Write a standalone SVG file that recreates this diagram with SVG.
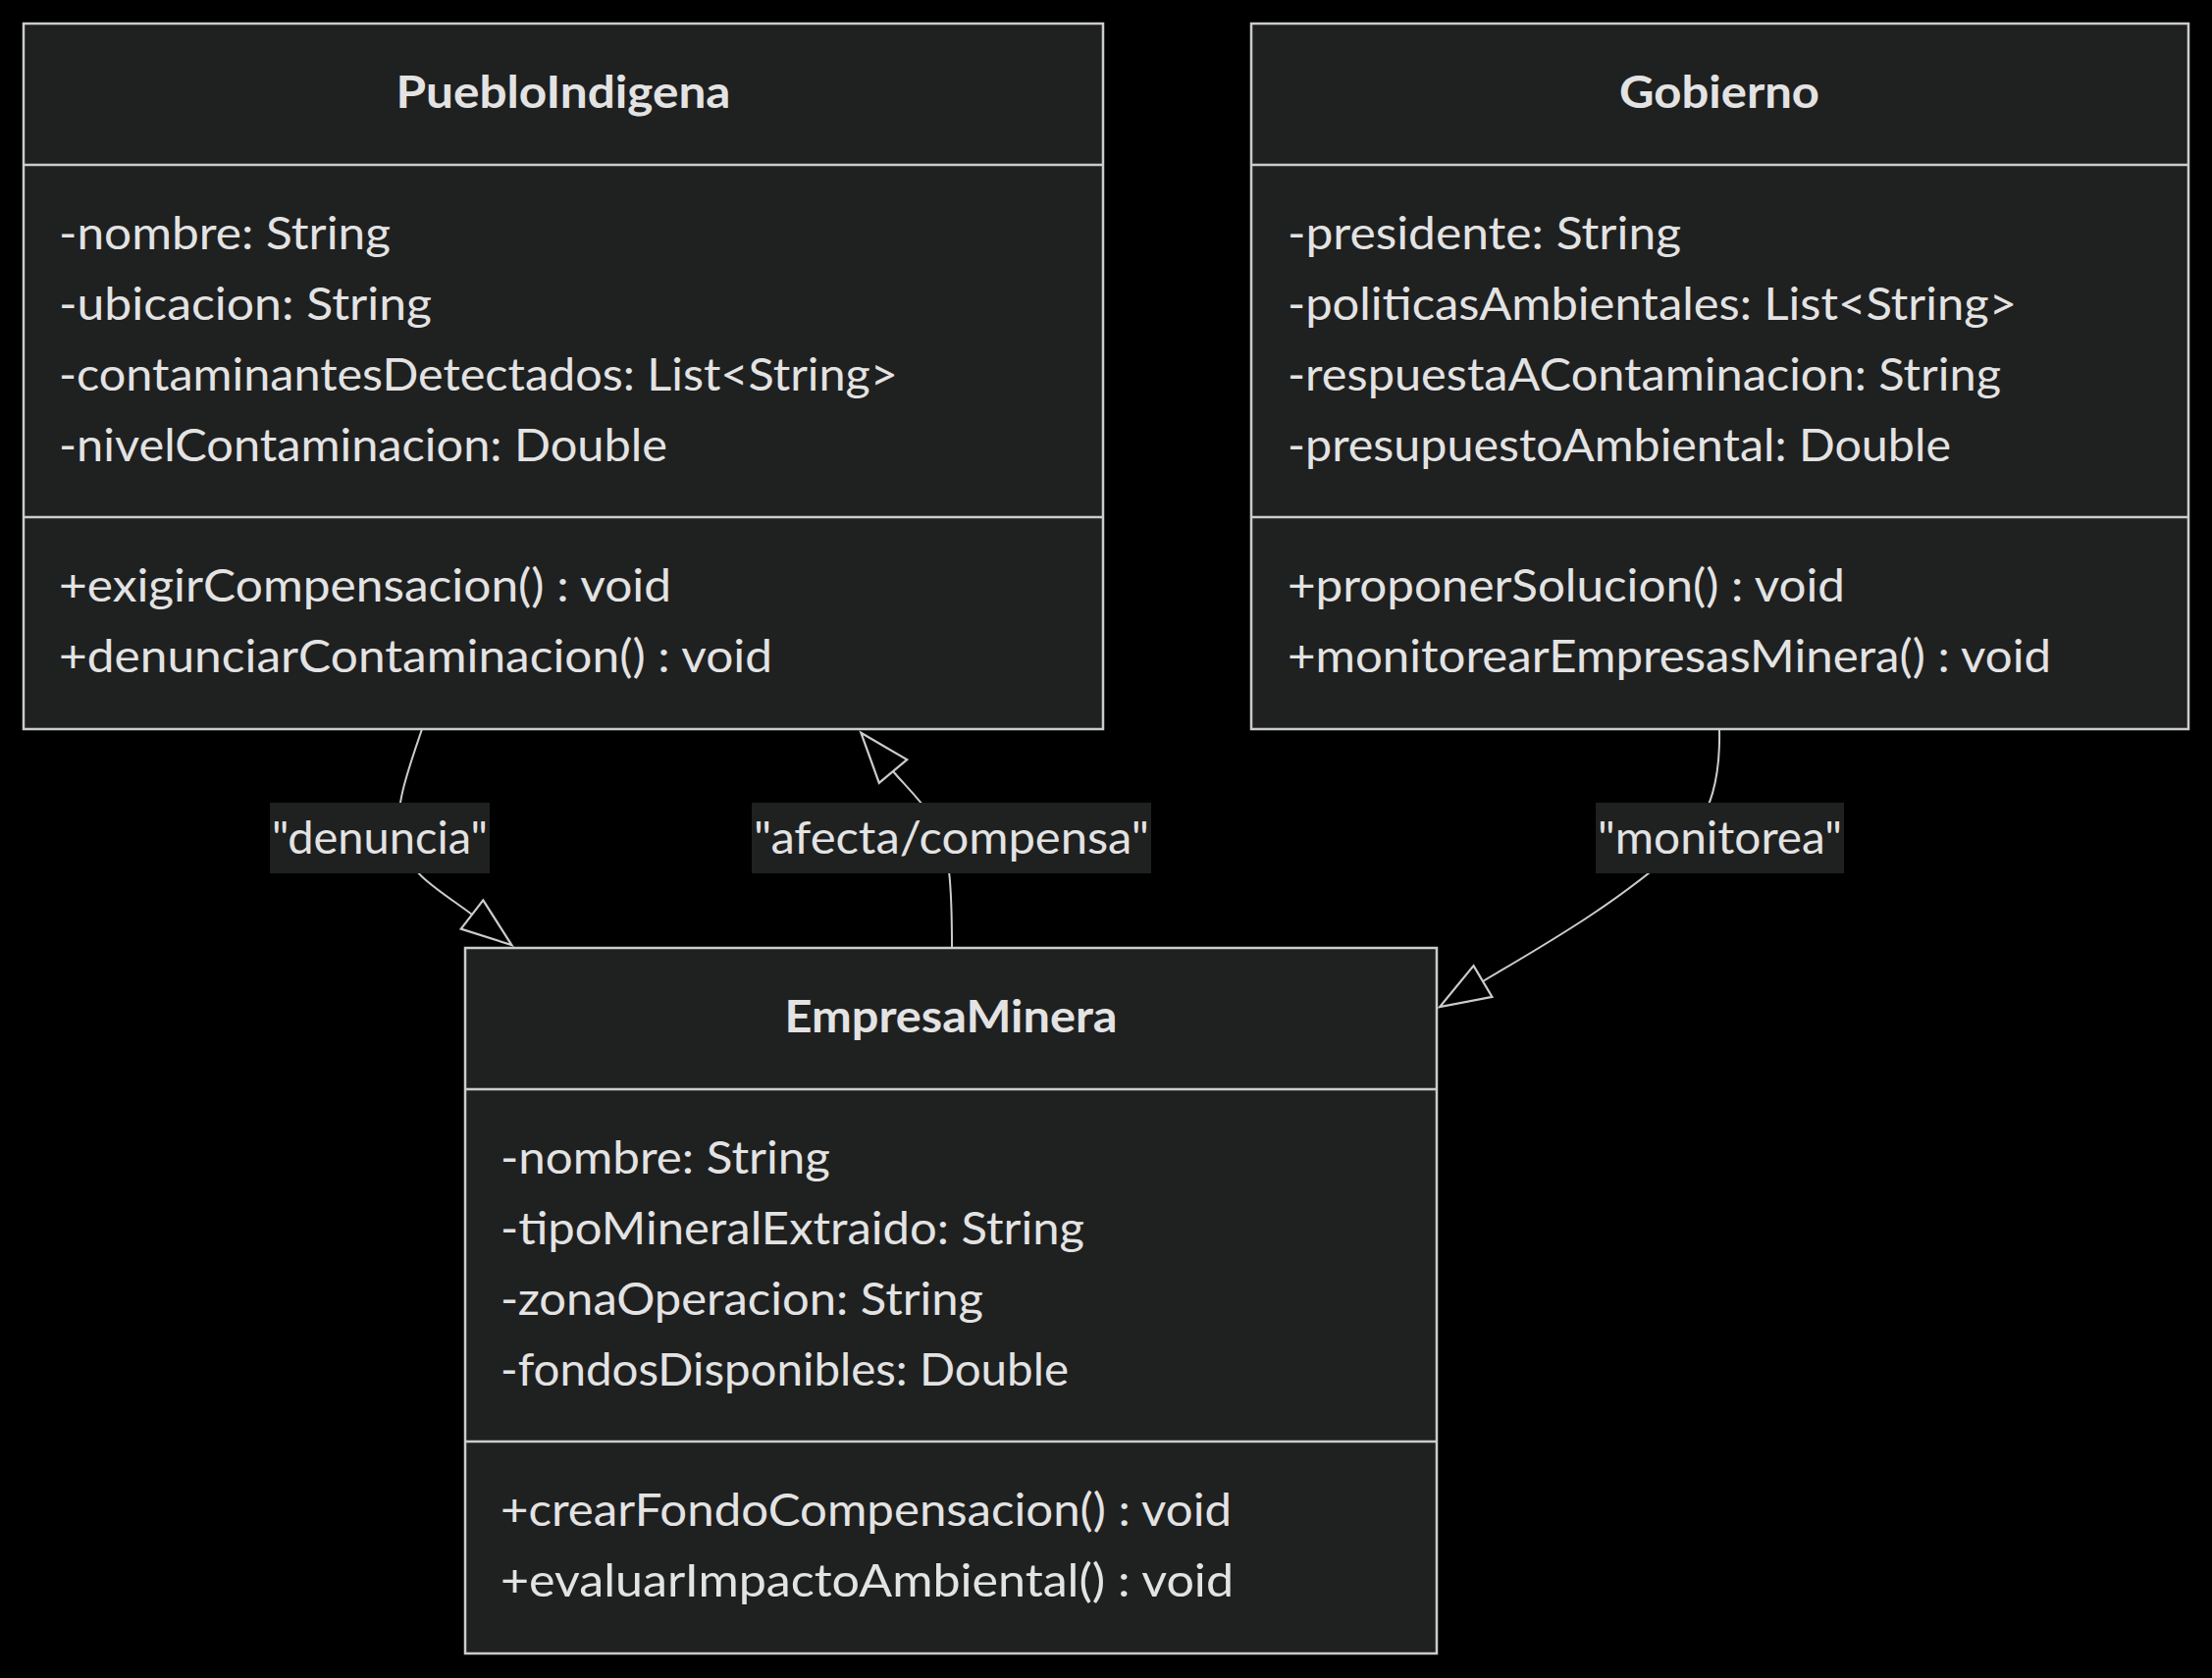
<svg xmlns="http://www.w3.org/2000/svg" width="2254" height="1710" viewBox="0 0 2254 1710">
<style>
.bg{fill:#000000}
.box{fill:#1f2020;stroke:#cccccc;stroke-width:2.5}
.div{stroke:#cccccc;stroke-width:2.5}
.t{font-family:Lato,"Open Sans","DejaVu Sans",sans-serif;font-size:46px;fill:#e3e3e3}
.title{font-family:Lato,"Open Sans","DejaVu Sans",sans-serif;font-size:46px;font-weight:bold;fill:#e3e3e3}
.edge{fill:none;stroke:#cccccc;stroke-width:2}
.lblbg{fill:#1f2020}
</style>
<defs>
<marker id="ext" markerUnits="userSpaceOnUse" viewBox="0 0 54 40" markerWidth="54" markerHeight="40" refX="1" refY="20" orient="auto" overflow="visible">
<path d="M1,1.5 L52,20 L1,38.5 Z" fill="#000000" stroke="#cccccc" stroke-width="2.2"/>
</marker>
</defs>
<rect class="bg" x="0" y="0" width="2254" height="1710"/>

<g id="node-PuebloIndigena">
<rect class="box" x="24" y="24" width="1100" height="719"/>
<line class="div" x1="24" y1="168" x2="1124" y2="168"/>
<line class="div" x1="24" y1="527" x2="1124" y2="527"/>
<text class="title" x="574" y="110" text-anchor="middle" textLength="341" lengthAdjust="spacingAndGlyphs">PuebloIndigena</text>
<text class="t" x="60" y="254" textLength="338" lengthAdjust="spacingAndGlyphs">-nombre: String</text>
<text class="t" x="60" y="326" textLength="380" lengthAdjust="spacingAndGlyphs">-ubicacion: String</text>
<text class="t" x="60" y="398" textLength="855" lengthAdjust="spacingAndGlyphs">-contaminantesDetectados: List&lt;String&gt;</text>
<text class="t" x="60" y="470" textLength="620" lengthAdjust="spacingAndGlyphs">-nivelContaminacion: Double</text>
<text class="t" x="60" y="613" textLength="624" lengthAdjust="spacingAndGlyphs">+exigirCompensacion() : void</text>
<text class="t" x="60" y="685" textLength="727" lengthAdjust="spacingAndGlyphs">+denunciarContaminacion() : void</text>
</g>

<g id="node-Gobierno">
<rect class="box" x="1275" y="24" width="955" height="719"/>
<line class="div" x1="1275" y1="168" x2="2230" y2="168"/>
<line class="div" x1="1275" y1="527" x2="2230" y2="527"/>
<text class="title" x="1752" y="110" text-anchor="middle" textLength="204" lengthAdjust="spacingAndGlyphs">Gobierno</text>
<text class="t" x="1312" y="254" textLength="401" lengthAdjust="spacingAndGlyphs">-presidente: String</text>
<text class="t" x="1312" y="326" textLength="743" lengthAdjust="spacingAndGlyphs">-politicasAmbientales: List&lt;String&gt;</text>
<text class="t" x="1312" y="398" textLength="727" lengthAdjust="spacingAndGlyphs">-respuestaAContaminacion: String</text>
<text class="t" x="1312" y="470" textLength="676" lengthAdjust="spacingAndGlyphs">-presupuestoAmbiental: Double</text>
<text class="t" x="1312" y="613" textLength="568" lengthAdjust="spacingAndGlyphs">+proponerSolucion() : void</text>
<text class="t" x="1312" y="685" textLength="778" lengthAdjust="spacingAndGlyphs">+monitorearEmpresasMinera() : void</text>
</g>

<g id="node-EmpresaMinera">
<rect class="box" x="474" y="966" width="990" height="719"/>
<line class="div" x1="474" y1="1110" x2="1464" y2="1110"/>
<line class="div" x1="474" y1="1469" x2="1464" y2="1469"/>
<text class="title" x="969" y="1052" text-anchor="middle" textLength="339" lengthAdjust="spacingAndGlyphs">EmpresaMinera</text>
<text class="t" x="510" y="1196" textLength="336" lengthAdjust="spacingAndGlyphs">-nombre: String</text>
<text class="t" x="510" y="1268" textLength="595" lengthAdjust="spacingAndGlyphs">-tipoMineralExtraido: String</text>
<text class="t" x="510" y="1340" textLength="492" lengthAdjust="spacingAndGlyphs">-zonaOperacion: String</text>
<text class="t" x="510" y="1412" textLength="579" lengthAdjust="spacingAndGlyphs">-fondosDisponibles: Double</text>
<text class="t" x="510" y="1555" textLength="745" lengthAdjust="spacingAndGlyphs">+crearFondoCompensacion() : void</text>
<text class="t" x="510" y="1627" textLength="747" lengthAdjust="spacingAndGlyphs">+evaluarImpactoAmbiental() : void</text>
</g>

<g id="connectors">
<path class="edge" d="M430,743 C416,785 400,825 408,862 C418,892 455,912 481,932" marker-end="url(#ext)"/>
<path class="edge" d="M970,966 C970,905 968,862 952,836 C938,815 920,798 910,786" marker-end="url(#ext)"/>
<path class="edge" d="M1752,743 C1753,790 1745,830 1715,860 C1650,920 1570,965 1511,1000" marker-end="url(#ext)"/>
<g id="label-denuncia">
<rect class="lblbg" x="275" y="818" width="224" height="72"/>
<text class="t" x="387" y="870" text-anchor="middle" textLength="220" lengthAdjust="spacingAndGlyphs">"denuncia"</text>
</g>
<g id="label-afecta">
<rect class="lblbg" x="766" y="818" width="407" height="72"/>
<text class="t" x="969.5" y="870" text-anchor="middle" textLength="403" lengthAdjust="spacingAndGlyphs">"afecta/compensa"</text>
</g>
<g id="label-monitorea">
<rect class="lblbg" x="1626" y="818" width="253" height="72"/>
<text class="t" x="1752.5" y="870" text-anchor="middle" textLength="249" lengthAdjust="spacingAndGlyphs">"monitorea"</text>
</g>
</g>
</svg>
